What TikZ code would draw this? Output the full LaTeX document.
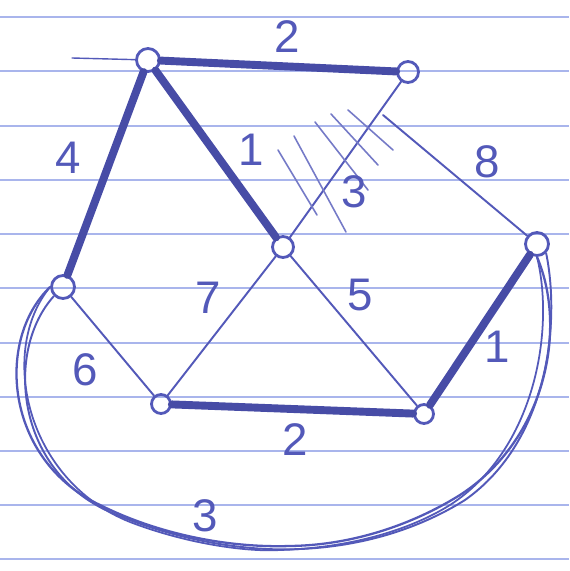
\documentclass[tikz,border=0pt]{standalone}
\usepackage{fontspec}
\setmainfont{Liberation Sans}
\usepackage{xcolor}
\usepackage{tikz}
\usetikzlibrary{positioning}
\definecolor{PenInk}{HTML}{5359B9}
\definecolor{PenDark}{HTML}{474CA6}
\definecolor{RuleBlue}{HTML}{A9B5EC}

\tikzset{
  vertex/.style={circle, draw=PenInk, line width=1.6pt, minimum size=0.46cm, inner sep=0pt},
  light/.style={PenInk, line width=1.1pt, line cap=round},
  heavy/.style={PenDark, line width=4.5pt, line cap=round},
  hatch/.style={PenInk!80, line width=0.9pt, line cap=round},
  weight/.style={text=PenInk, font=\fontsize{26}{28}\selectfont, inner sep=0pt}
}

\begin{document}
\begin{tikzpicture}[x=0.02cm, y=-0.02cm]
      \useasboundingbox (0,0) rectangle (569,571);
      \fill[white] (0,0) rectangle (569,571);
      % Paper rules
      \foreach \y in {17,71,126,180,234,288,343,397,451,505,559}
        \draw[RuleBlue, line width=1.1pt] (0,\y) -- (569,\y);
      % Vertices
      \node[vertex] (a) at (148,60) {};
      \node[vertex, minimum size=0.42cm] (b) at (408,72) {};
      \node[vertex, minimum size=0.42cm] (c) at (283,247) {};
      \node[vertex] (d) at (537,244) {};
      \node[vertex] (e) at (63,287) {};
      \node[vertex, minimum size=0.38cm] (f) at (161,404) {};
      \node[vertex, minimum size=0.38cm] (g) at (424,414) {};
      \coordinate (a-tail) at (72,58);
      \coordinate (d-tail) at (383,115);
      % Edges
      \draw[light, line width=0.8pt] (a-tail) -- (a);
      \draw[heavy] (a) -- (b);
      \draw[heavy] (a) -- (c);
      \draw[heavy] (a) -- (e);
      \draw[heavy] (f) -- (g);
      \draw[heavy] (g) -- (d);
      \draw[light] (b) -- (c);
      \draw[light] (d-tail) -- (d);
      \draw[light] (c) -- (f);
      \draw[light] (c) -- (g);
      \draw[light] (e) -- (f);
      % Long way round
      \draw[PenInk, line width=1.3pt] (e.west) .. controls (-5,340) and (5,460) .. (100,505)
        .. controls (160,535) and (230,548) .. (290,546)
        .. controls (360,545) and (420,520) .. (460,495) .. controls (545,440) and (568,330) .. (d.south);
      \draw[PenInk, line width=1.1pt] (e.south west) .. controls (5,350) and (15,470) .. (110,512)
        .. controls (170,538) and (240,552) .. (300,549)
        .. controls (370,546) and (425,525) .. (465,500) .. controls (550,440) and (560,320) .. (d.south east);
      \draw[PenInk, line width=1pt] (e.west) .. controls (-2,350) and (25,480) .. (130,522)
        .. controls (190,545) and (250,552) .. (280,550)
        .. controls (350,548) and (410,530) .. (450,505) .. controls (535,450) and (555,330) .. (d.south);
      % Hatching
      \foreach \x/\y/\u/\v in {278/150/317/215, 294/136/346/232, 315/122/368/190, 331/114/378/165, 348/110/393/150}
        \draw[hatch] (\x,\y) -- (\u,\v);
      % Weights
      \node[weight] (w-ab) at (287,37) {2};
      \node[weight] (w-ac) at (251,150) {1};
      \node[weight] (w-ae) at (68,158) {4};
      \node[weight] (w-bc) at (354,192) {3};
      \node[weight] (w-bd) at (487,162) {8};
      \node[weight] (w-cf) at (208,298) {7};
      \node[weight] (w-cg) at (360,295) {5};
      \node[weight] (w-ef) at (85,370) {6};
      \node[weight] (w-gd) at (497,347) {1};
      \node[weight] (w-fg) at (295,440) {2};
      \node[weight] (w-ed) at (205,516) {3};
    \end{tikzpicture}
\end{document}
